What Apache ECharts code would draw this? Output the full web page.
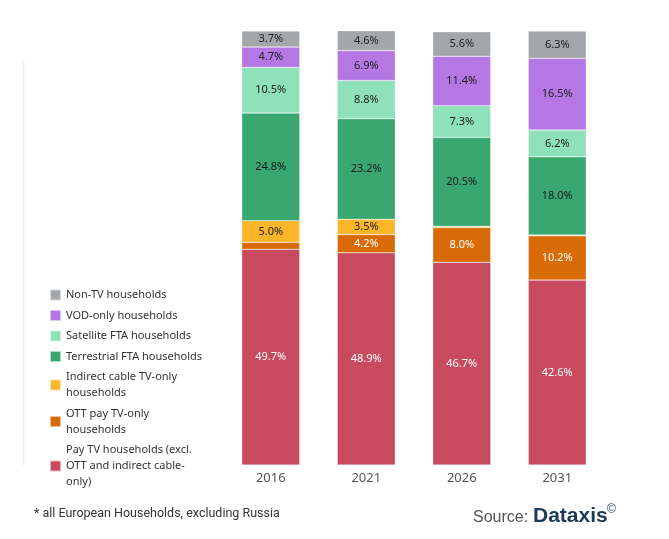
<!DOCTYPE html>
<html>
<head>
<meta charset="utf-8">
<script src="https://cdn.jsdelivr.net/npm/echarts@6/dist/echarts.min.js"></script>
<style>
  html, body { margin: 0; padding: 0; background: #fff; }
  #chart { width: 669px; height: 539px; }
</style>
</head>
<body>
<div id="chart"></div>
<script>
// categories
const years = ['2016', '2021', '2026', '2031']

// series values (% of households), bottom of stack first
const payTv = [49.7, 48.9, 46.7, 42.6]
const ottPay = [1.6, 4.2, 8.0, 10.2]
const indirectCable = [5.0, 3.5, 0.3, 0.2]
const terrestrial = [24.8, 23.2, 20.5, 18.0]
const satellite = [10.5, 8.8, 7.3, 6.2]
const vodOnly = [4.7, 6.9, 11.4, 16.5]
const nonTv = [3.7, 4.6, 5.6, 6.3]

const seriesDefs = [
  { name: 'Pay TV households (excl.\nOTT and indirect cable-\nonly)', data: payTv, color: '#c84a5f', text: '#fff' },
  { name: 'OTT pay TV-only\nhouseholds', data: ottPay, color: '#d86b06', text: '#fff' },
  { name: 'Indirect cable TV-only\nhouseholds', data: indirectCable, color: '#fbb62a', text: '#222' },
  { name: 'Terrestrial FTA households', data: terrestrial, color: '#39a770', text: '#1a1a1a' },
  { name: 'Satellite FTA households', data: satellite, color: '#8ee1b9', text: '#222' },
  { name: 'VOD-only households', data: vodOnly, color: '#b577e3', text: '#222' },
  { name: 'Non-TV households', data: nonTv, color: '#a3a7a9', text: '#222' }
]

const chart = echarts.init(document.getElementById('chart'))

chart.setOption({
  backgroundColor: '#fff',
  textStyle: { fontFamily: 'Noto Sans' },
  grid: { left: 223, right: 64, top: 31, bottom: 74 },
  legend: {
    orient: 'vertical',
    left: 44,
    top: 282,
    itemWidth: 11,
    itemHeight: 11,
    itemGap: 4.5,
    icon: 'rect',
    selectedMode: false,
    data: seriesDefs.map(s => s.name).reverse(),
    textStyle: { fontSize: 11, color: '#333', lineHeight: 16 }
  },
  xAxis: {
    type: 'category',
    data: years,
    axisLine: { show: false },
    axisTick: { show: false },
    axisLabel: { color: '#555', fontSize: 13, margin: 7 }
  },
  yAxis: {
    type: 'value',
    min: 0,
    max: 100,
    show: false
  },
  graphic: [{
    type: 'line',
    shape: { x1: 23.5, y1: 60, x2: 23.5, y2: 465 },
    style: { stroke: '#eef0f0', lineWidth: 1.5 }
  }, {
    type: 'text',
    left: 34,
    top: 507,
    style: { text: '* all European Households, excluding Russia', fill: '#333', font: '12.5px Roboto' }
  }, {
    type: 'text',
    left: 473,
    top: 510,
    style: { text: 'Source:', fill: '#555', font: '16px "Liberation Sans"' }
  }, {
    type: 'text',
    left: 533,
    top: 506,
    style: { text: 'Dataxis', fill: '#1c3a5a', font: 'bold 21px "Liberation Sans"' }
  }, {
    type: 'text',
    left: 607,
    top: 504,
    style: { text: '©', fill: '#1c3a5a', font: '12px "Liberation Sans"' }
  }],
  series: seriesDefs.map(s => ({
    name: s.name,
    type: 'bar',
    stack: 'total',
    barWidth: 58,
    data: s.data,
    itemStyle: { color: s.color, borderColor: 'rgba(255,255,255,0.6)', borderWidth: 0.5 },
    label: {
      show: true,
      position: 'inside',
      color: s.text,
      fontSize: 11,
      formatter: p => (p.value >= 2 ? p.value.toFixed(1) + '%' : '')
    }
  }))
})
</script>
</body>
</html>
